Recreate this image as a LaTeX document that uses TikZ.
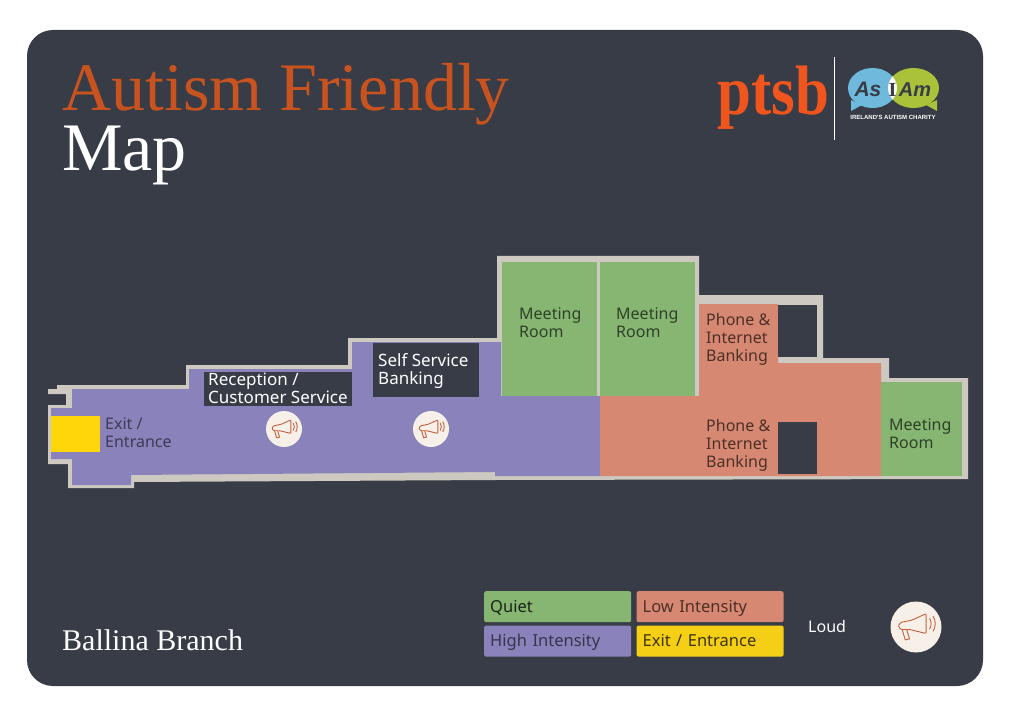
\documentclass[tikz,border=0pt]{standalone}
\usepackage{fontspec}
\setmainfont{Noto Sans}
\newfontfamily\titlefont{Liberation Serif}
\newfontfamily\logofont{Liberation Sans}
\usetikzlibrary{positioning}

\definecolor{slate}{HTML}{373C46}
\definecolor{wall}{HTML}{CDC9C0}
\definecolor{quiet}{HTML}{86B672}
\definecolor{high}{HTML}{8A83BB}
\definecolor{low}{HTML}{D78872}
\definecolor{exitc}{HTML}{FFD60A}
\definecolor{exitl}{HTML}{F5CF15}
\definecolor{cream}{HTML}{F7F0E8}
\definecolor{rust}{HTML}{C9531F}
\definecolor{horn}{HTML}{C0603F}
\definecolor{ptsbc}{HTML}{F0551E}
\definecolor{asblue}{HTML}{6FB9DC}
\definecolor{asgreen}{HTML}{A9C23A}

\tikzset{
  lab/.style={anchor=north west, inner sep=0pt, align=left, font=\fontsize{16}{18}\selectfont},
  greenlab/.style={lab, text=quiet!35!black},
  purplab/.style={lab, text=high!45!black},
  redlab/.style={lab, text=low!35!black},
  whitelab/.style={lab, text=white, font=\fontsize{17}{18}\selectfont},
  key/.style={rectangle, rounded corners=2pt, minimum width=147pt, minimum height=31pt,
    inner sep=0pt, inner xsep=6pt, text width=135pt, text height=14pt, text depth=3pt,
    align=left, font=\fontsize{16.5}{18}\selectfont},
  loudmark/.style={circle, fill=cream, inner sep=0pt, minimum size=36pt},
  pics/hornicon/.style={code={
    \draw[horn, line width=0.9pt, line join=round, rounded corners=1pt]
      (-4,-6.3) -- (9.3,-12.3) -- (9.3,6) -- (-6,2.3) -- (-14,2.3)
      -- (-16.5,-1) -- (-14,-4.3) -- cycle;
    \draw[horn, line width=0.9pt, line join=round]
      (-12.7,2.5) -- (-10,12) -- (-6,11) -- (-8.5,2.8);
    \draw[horn, line width=0.9pt] (12.5,-8) .. controls (14.5,-5) and (14.5,-1) .. (12.5,2);
    \draw[horn, line width=0.9pt] (15.8,-10) .. controls (18.5,-6) and (18.5,0) .. (15.8,4);
  }}
}

\begin{document}
\begin{tikzpicture}[x=1pt, y=-1pt]
    \useasboundingbox (0,0) rectangle (1015,714);
    \fill[white] (0,0) rectangle (1015,714);
    \fill[slate, rounded corners=26pt] (27,30) rectangle (983,686);

    % title
    \node[anchor=base west, inner sep=0pt, text=rust, font=\titlefont\fontsize{68}{68}\selectfont] (title) at (62,111) {Autism Friendly};
    \node[anchor=base west, inner sep=0pt, text=white, font=\titlefont\fontsize{68}{68}\selectfont] (map) at (62,171) {Map};
    \node[anchor=base west, inner sep=0pt, text=white, font=\titlefont\fontsize{30}{30}\selectfont] (branch) at (62,650) {Ballina Branch};

    % logos
    \node[anchor=base west, inner sep=0pt, text=ptsbc, font=\titlefont\bfseries\fontsize{70}{70}\selectfont, xscale=0.87] (ptsb) at (717,115) {ptsb};
    \draw[white, line width=1pt] (834.5,57) -- (834.5,140);
    \fill[asblue] (872.5,88) ellipse (24.5 and 20);
    \fill[asblue] (851,100) -- (851,111) -- (862,105) -- cycle;
    \fill[asgreen] (913.5,88) ellipse (25.5 and 20);
    \fill[asgreen] (937,100) -- (937,111) -- (926,105) -- cycle;
    \begin{scope}
      \clip (872.5,88) ellipse (24.5 and 20);
      \fill[white] (913.5,88) ellipse (25.5 and 20);
    \end{scope}
    \node[anchor=base, inner sep=0pt, text=slate, font=\logofont\bfseries\itshape\fontsize{21}{21}\selectfont] (asword) at (868,97) {As};
    \node[anchor=base, inner sep=0pt, text=slate, font=\titlefont\bfseries\fontsize{20}{20}\selectfont] (iword) at (892.5,97) {I};
    \node[anchor=base, inner sep=0pt, text=slate, font=\logofont\bfseries\itshape\fontsize{20}{20}\selectfont] (amword) at (915,97) {Am};
    \node[anchor=base, inner sep=0pt, text=white, font=\logofont\bfseries\fontsize{6}{6}\selectfont] (charity) at (893,120) {IRELAND'S AUTISM CHARITY};

    % walls
    \fill[wall] (57,385) -- (186,385) -- (186,365) -- (348,365) -- (348,338) -- (497,338)
      -- (497,256) -- (699,256) -- (699,295) -- (823,295) -- (823,358) -- (889,358)
      -- (889,378) -- (968,378) -- (968,479) -- (495,480) -- (134,482) -- (134,488)
      -- (68,488) -- (68,464) -- (48,464) -- (48,405) -- (66,405) -- (66,394) -- (48,394)
      -- (48,389) -- (57,389) -- cycle;

    % zones
    \fill[high] (72,389) -- (189,389) -- (189,369) -- (352,369) -- (352,342) -- (501,342)
      -- (501,396) -- (600,396) -- (600,476) -- (495,476) -- (495,472) -- (131,475)
      -- (131,485) -- (72,485) -- (72,459) -- (51,459) -- (51,408) -- (72,408) -- cycle;
    \fill[low] (600,396) -- (699,396) -- (699,304) -- (778,304) -- (778,363) -- (881,363)
      -- (881,476) -- (600,476) -- cycle;
    \fill[quiet] (502,262) rectangle (597,396);
    \fill[quiet] (600,262) rectangle (695,396);
    \fill[quiet] (881,382) rectangle (962,476);
    \fill[exitc] (51,416) rectangle (100,452);
    \fill[slate] (778,305) rectangle (817,357);
    \fill[slate] (778,422) rectangle (817,474);
    \fill[slate] (204,372) rectangle (352,406);
    \fill[slate] (373,343) rectangle (479,397);

    % room labels
    \node[greenlab] (meetA) at (519,308) {Meeting\\Room};
    \node[greenlab] (meetB) at (616,308) {Meeting\\Room};
    \node[greenlab] (meetC) at (889,419) {Meeting\\Room};
    \node[redlab] (phoneA) at (706,313) {Phone \&\\Internet\\Banking};
    \node[redlab] (phoneB) at (706,419) {Phone \&\\Internet\\Banking};
    \node[purplab] (exit) at (105,418) {Exit /\\Entrance};
    \node[whitelab] (recep) at (208,373) {Reception /\\Customer Service};
    \node[whitelab] (self) at (378,353) {Self Service\\Banking};

    % loud spots
    \node[loudmark] (loudA) at (284,429) {};
    \node[loudmark] (loudB) at (431,429) {};
    \pic[scale=0.74] at (loudA) {hornicon};
    \pic[scale=0.74] at (loudB) {hornicon};

    % key
    \node[key, fill=quiet, text=quiet!20!black, anchor=north west] (kquiet) at (484,591) {Quiet};
    \node[key, fill=high, text=high!40!black, below=3pt of kquiet] (khigh) {High Intensity};
    \node[key, fill=low, text=low!35!black, right=5pt of kquiet] (klow) {Low Intensity};
    \node[key, fill=exitl, text=exitl!25!black, right=5pt of khigh] (kexit) {Exit / Entrance};
    \node[anchor=west, inner sep=0pt, text=white, font=\fontsize{16}{18}\selectfont] (kloud) at (808,626) {Loud};
    \node[loudmark, minimum size=51pt] (kicon) at (916,627) {};
    \pic[scale=1.08] at (kicon) {hornicon};
\end{tikzpicture}
\end{document}
